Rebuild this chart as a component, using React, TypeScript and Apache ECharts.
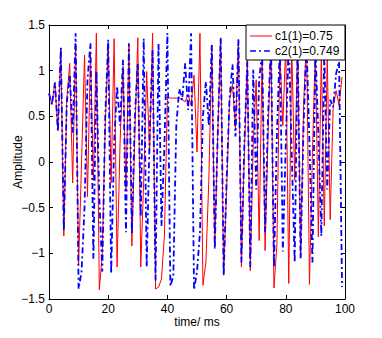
import React, { useEffect, useRef } from "react";
import * as echarts from "echarts";

const timeMs: number[] = Array.from({ length: 100 }, (_, i) => i);

const c1Values: number[] = [
  0.75, 0.63, 0.87, 0.34, 1.25, -0.81, 0.68, 1.08, -0.23, 1.3,
  -1.13, 0.0, 1.17, -0.38, 1.2, -0.2, 1.41, -1.4, -1.0, 0.4,
  1.3, -0.23, 1.35, -1.15, 0.2, 1.05, -0.32, 1.28, -0.92, 0.3,
  1.36, -1.15, -0.2, 0.99, 0.1, 1.41, -1.39, -1.37, -1.28, -0.8,
  0.71, 0.7, 0.7, 0.7, 0.7, 0.68, 0.66, 0.74, 0.62, 0.95,
  0.11, 1.41, -1.35, -1.1, -0.2, 1.28, -0.95, 0.3, 1.36, -1.24,
  -0.3, 0.68, 0.85, 0.36, 1.34, -1.15, 0.1, 1.12, -1.19, 0.2,
  0.9, -0.86, 1.19, -0.97, 0.3, 1.35, -1.38, -0.9, 1.2, 0.4,
  1.3, -1.33, 1.3, -0.2, 1.35, -1.05, 0.6, 1.38, -1.34, 0.1,
  1.25, -0.82, 1.2, -0.7, 1.15, -0.63, 0.6, 0.78, 0.62, 0.93,
];

const c2Values: number[] = [
  0.749, 0.63, 0.87, 0.34, 1.25, -0.75, 0.65, 0.95, 0.32, 1.41,
  -1.39, -1.2, -0.5, 0.9, 1.3, -1.06, 1.0, -0.4, -1.2, 0.5,
  1.34, -1.22, 0.2, 0.83, 0.4, 1.12, -0.77, 1.3, -0.78, 0.5,
  1.08, -0.6, 1.35, -1.15, 0.3, 1.23, -1.3, 1.3, -0.7, 0.2,
  1.41, -1.36, -1.25, 0.4, 0.8, 0.68, 1.08, 0.57, 1.41, -1.4,
  -1.2, -0.77, 0.5, 0.88, 0.4, 1.28, -0.95, 0.3, 1.36, -1.24,
  -0.2, 0.7, 1.07, 0.28, 1.34, -1.1, 0.2, 1.1, -1.15, 1.01,
  -0.3, 0.9, 1.2, -0.77, 0.5, 1.3, -1.15, 0.3, 1.3, -0.98,
  0.2, 1.35, 0.1, -1.1, 1.3, -1.06, 0.4, 1.3, 0.2, -1.1,
  1.25, 0.3, -0.81, 1.2, -0.3, 0.68, 0.6, 0.97, 1.1, -1.37,
];

const legendLabels: string[] = ["c1(1)=0.75", "c2(1)=0.749"];
const xTicks = { min: 0, max: 100, interval: 20 };
const yTicks = { min: -1.5, max: 1.5, interval: 0.5 };

const FONT = "'Liberation Sans', Arial, Helvetica, sans-serif";

export default function App() {
  const ref = useRef<HTMLDivElement>(null);

  useEffect(() => {
    if (!ref.current) return;
    const chart = echarts.init(ref.current, undefined, { renderer: "svg" });
    const fmtY = (v: number) => String(v).replace("-", "\u2212");
    const axisLine = { show: true, onZero: false, lineStyle: { color: "#000", width: 1 } };
    const tick = { show: true, inside: true, length: 4, lineStyle: { color: "#000" } };
    const red = c1Values.map((v, i) => [timeMs[i], v]);
    const blue = c2Values.map((v, i) => [timeMs[i], v]);

    chart.setOption({
      animation: false,
      backgroundColor: "#fff",
      grid: { left: 49, top: 25, right: 37, bottom: 39, containLabel: false, outerBoundsMode: "none" },
      xAxis: [
        {
          type: "value", ...xTicks, position: "bottom",
          name: "time/ ms", nameLocation: "middle", nameGap: 17, nameMoveOverlap: false,
          nameTextStyle: { fontFamily: FONT, fontSize: 12, color: "#000" },
          axisLine, axisTick: tick, splitLine: { show: false },
          axisLabel: { fontFamily: FONT, fontSize: 12, color: "#000", margin: 4 },
        },
        {
          type: "value", ...xTicks, position: "top",
          axisLine, axisTick: tick, splitLine: { show: false }, axisLabel: { show: false },
        },
      ],
      yAxis: [
        {
          type: "value", ...yTicks, position: "left",
          name: "Amplitude", nameLocation: "middle", nameGap: 25, nameMoveOverlap: false,
          nameTextStyle: { fontFamily: FONT, fontSize: 12, color: "#000" },
          axisLine, axisTick: tick, splitLine: { show: false },
          axisLabel: { fontFamily: FONT, fontSize: 12, color: "#000", margin: 4, formatter: fmtY },
        },
        {
          type: "value", ...yTicks, position: "right",
          axisLine, axisTick: tick, splitLine: { show: false }, axisLabel: { show: false },
        },
      ],
      series: [
        {
          name: legendLabels[0], type: "line", data: red, showSymbol: false,
          lineStyle: { color: "#ff0000", width: 1 }, z: 2,
        },
        {
          name: legendLabels[1], type: "line", data: blue, showSymbol: false,
          lineStyle: { color: "#0000ff", width: 1.8, type: [6, 3, 2, 3] }, z: 3,
        },
      ],
      graphic: [
        { type: "rect", z: 100, shape: { x: 246, y: 25, width: 99, height: 35 }, style: { fill: "#fff", stroke: "#000", lineWidth: 1 } },
        { type: "line", z: 101, shape: { x1: 250, y1: 36, x2: 272, y2: 36 }, style: { stroke: "#ff0000", lineWidth: 1 } },
        { type: "text", z: 101, x: 275, y: 36, style: { text: legendLabels[0], font: `12px ${FONT}`, fill: "#000", verticalAlign: "middle" } },
        { type: "line", z: 101, shape: { x1: 250, y1: 51, x2: 272, y2: 51 }, style: { stroke: "#0000ff", lineWidth: 1.5, lineDash: [6, 3, 2, 3] } },
        { type: "text", z: 101, x: 275, y: 51, style: { text: legendLabels[1], font: `12px ${FONT}`, fill: "#000", verticalAlign: "middle" } },
      ],
    });
    return () => chart.dispose();
  }, []);

  return <div ref={ref} style={{ position: "fixed", left: 0, top: 0, width: 382, height: 338 }} />;
}
